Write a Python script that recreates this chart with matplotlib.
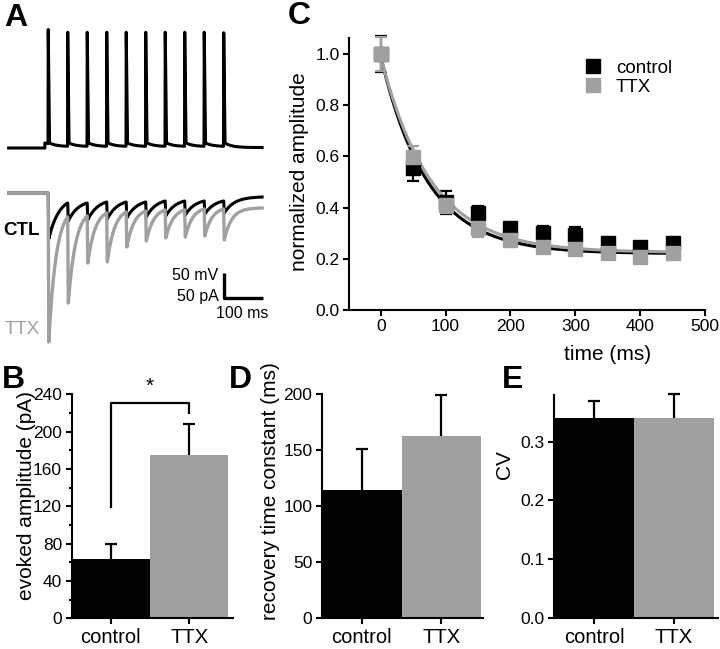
import matplotlib
matplotlib.use('Agg')
import matplotlib.pyplot as plt
import numpy as np

plt.rcParams['font.family'] = ['Liberation Sans', 'DejaVu Sans']

GRAY = '#a0a0a0'

# ---------------- panel A : traces (levels) ----------------
stim_t = [0, 50, 100, 150, 200, 250, 300, 350, 400, 450]      # ms
t_first, t_last = -101, 549                                    # ms, trace extent

# voltage trace (mV relative to rest)
spike_peak = [228, 228, 228, 228, 228, 228, 228, 228, 228, 227]
v_after = [10, 10, 10, 10, 10, 10, 10, 10, 10, 10]             # level right after each spike
v_before = [9, 3.5, 3.5, 3.5, 3.5, 3.5, 3.5, 3.5, 3.5, 3.5, 1]  # level before each spike (+ end)
step_on = -8

# evoked currents (pA); *_pre = level just before each stimulus, last = end of trace
ctl_trough = [-92, -56, -54, -52, -50, -48, -46, -44, -42, -40]
ctl_pre = [0, -20, -20, -18, -18, -18, -16, -16, -16, -16, -8]
ttx_trough = [-298, -220, -140, -138, -108, -96, -90, -88, -86, -94]
ttx_pre = [0, -48, -46, -40, -38, -36, -34, -34, -32, -32, -30]

# ---------------- panel B, D, E : bars ----------------
groups = ['control', 'TTX']
amp_mean = [64, 175]
amp_sem = [16, 33]
tau_mean = [114.5, 162.5]
tau_sem = [36.5, 37]
cv_mean = [0.34, 0.34]
cv_sem = [0.03, 0.041]

# ---------------- panel C : recovery ----------------
t_rec = [0, 50, 100, 150, 200, 250, 300, 350, 400, 450]
ctl_rec = [1.0, 0.553, 0.42, 0.378, 0.319, 0.30, 0.293, 0.263, 0.247, 0.26]
ctl_rec_err = [0.07, 0.05, 0.045, 0.027, 0.02, 0.028, 0.032, 0.017, 0.013, 0.016]
ttx_rec = [1.0, 0.599, 0.41, 0.319, 0.273, 0.247, 0.237, 0.221, 0.206, 0.221]
ttx_rec_err = [0.065, 0.04, 0.03, 0.032, 0.02, 0.02, 0.02, 0.02, 0.02, 0.02]
# single exponential fits: plateau, amplitude, tau (ms)
ctl_fit = (0.22, 0.77, 72.0)
ttx_fit = (0.225, 0.765, 77.0)


def voltage_trace():
    t = [t_first, step_on, step_on]
    v = [0, 0, v_after[0]]
    for k, t0 in enumerate(stim_t):
        t += [t0, t0 + 0.6, t0 + 4.0]
        v += [v_before[k], v_before[k] + spike_peak[k], v_after[k]]
        t_end = stim_t[k + 1] if k + 1 < len(stim_t) else t_last
        dt = np.linspace(0, t_end - t0 - 4.0, 30)[1:]
        tau = 18.0
        e = np.exp(-(t_end - t0 - 4.0) / tau)
        s = (v_before[k + 1] - v_after[k] * e) / (1 - e)
        t += list(t0 + 4.0 + dt)
        v += list(s + (v_after[k] - s) * np.exp(-dt / tau))
    return np.array(t), np.array(v)


def current_trace(trough, pre, tau):
    t = [t_first]
    y = [pre[0]]
    for k, t0 in enumerate(stim_t):
        t += [t0 + 0.5, t0 + 2.0]
        y += [pre[k], trough[k]]
        t_end = stim_t[k + 1] if k + 1 < len(stim_t) else t_last
        span = t_end - t0 - 2.0
        dt = np.linspace(0, span, 40)[1:]
        e = np.exp(-span / tau)
        s = (pre[k + 1] - trough[k] * e) / (1 - e)
        t += list(t0 + 2.0 + dt)
        y += list(s + (trough[k] - s) * np.exp(-dt / tau))
    return np.array(t), np.array(y)


fig = plt.figure(figsize=(7.2, 6.49), dpi=100)

# ---- A ----
axA = fig.add_axes([0, 289 / 649, 280 / 720, 360 / 649])
axA.set_xlim(-48 * 100 / 39, 232 * 100 / 39)
axA.set_ylim(0, 720)
axA.axis('off')
V_OFF, I_OFF = 424, 334
tv, vv = voltage_trace()
axA.plot(tv, vv + V_OFF, color='k', lw=2.2)
tc, yc = current_trace(ctl_trough, ctl_pre, 26.0)
axA.plot(tc, yc + I_OFF, color='k', lw=2.2)
tt, yt = current_trace(ttx_trough, ttx_pre, 19.0)
axA.plot(tt, yt + I_OFF, color=GRAY, lw=2.4)
# scale bar
axA.plot([451, 451, 551], [174, 124, 124], color='k', lw=2.4, solid_capstyle='butt')
axA.text(437, 168, '50 mV', ha='right', va='center', fontsize=11.5)
axA.text(437, 127, '50 pA', ha='right', va='center', fontsize=11.5)
axA.text(497, 92, '100 ms', ha='center', va='center', fontsize=11.5)
axA.text(-115, 259, 'CTL', ha='left', va='center', fontsize=13.5, fontweight='bold')
axA.text(-110, 62, 'TTX', ha='left', va='center', fontsize=13.5, color=GRAY)


def style(ax):
    for s in ['top', 'right']:
        ax.spines[s].set_visible(False)
    for s in ['left', 'bottom']:
        ax.spines[s].set_linewidth(1.5)
    ax.tick_params(width=1.5, length=4.3, labelsize=12.5, pad=2.5)
    ax.tick_params(which='minor', width=1.5, length=2.2)


def bars(ax, means, sems):
    x = np.arange(len(groups))
    ax.bar(x, means, width=1.0, color=['k', GRAY], edgecolor='none', zorder=2)
    tops = np.array(means) + np.array(sems)
    ax.vlines(x, means, tops, color='k', lw=1.6, zorder=1, clip_on=False)
    ax.plot(x, tops, ls='none', marker='_', ms=9, mew=1.6, color='k', clip_on=False, zorder=1)
    ax.set_xticks(x)
    ax.set_xticklabels(groups)
    style(ax)
    ax.tick_params(axis='x', pad=3, labelsize=14.5)


# ---- B ----
axB = fig.add_axes([71.5 / 720, (649 - 618.3) / 649, 161.5 / 720, 224 / 649])
bars(axB, amp_mean, amp_sem)
axB.set_xlim(-0.5, 1.56)
axB.set_ylim(0, 240)
axB.set_yticks(np.arange(0, 241, 40))
axB.set_yticks(np.arange(20, 240, 40), minor=True)
axB.set_ylabel('evoked amplitude (pA)', fontsize=15)
axB.yaxis.label.set_verticalalignment('center')
axB.yaxis.set_label_coords(-0.279, 0.55)
axB.plot([0, 0, 1, 1], [119, 231, 231, 220], color='k', lw=1.6, clip_on=False)
axB.text(0.5, 249, '*', ha='center', va='center', fontsize=15)

# ---- D ----
axD = fig.add_axes([321.7 / 720, (649 - 617.7) / 649, 161.3 / 720, 223.4 / 649])
bars(axD, tau_mean, tau_sem)
axD.set_xlim(-0.5, 1.52)
axD.set_ylim(0, 200)
axD.set_yticks(np.arange(0, 201, 50))
axD.set_ylabel('recovery time constant (ms)', fontsize=15)
axD.yaxis.label.set_verticalalignment('center')
axD.yaxis.set_label_coords(-0.32, 0.567)

# ---- E ----
axE = fig.add_axes([554 / 720, (649 - 617.7) / 649, 164 / 720, 222.7 / 649])
bars(axE, cv_mean, cv_sem)
axE.set_xlim(-0.5, 1.55)
axE.set_ylim(0, 0.38)
axE.set_yticks([0.0, 0.1, 0.2, 0.3])
axE.set_yticklabels(['0.0', '0.1', '0.2', '0.3'])
axE.set_ylabel('CV', fontsize=15)
axE.yaxis.label.set_verticalalignment('center')
axE.yaxis.set_label_coords(-0.299, 0.686)

# ---- C ----
axC = fig.add_axes([349 / 720, (649 - 310) / 649, 356 / 720, 272 / 649])
tf = np.linspace(0, 450, 300)
for vals, errs, fit, col, lab in [(ctl_rec, ctl_rec_err, ctl_fit, 'k', 'control'),
                                  (ttx_rec, ttx_rec_err, ttx_fit, GRAY, 'TTX')]:
    c0, a0, tau0 = fit
    axC.plot(tf, c0 + a0 * np.exp(-tf / tau0), color=col, lw=2.2)
    axC.errorbar(t_rec, vals, yerr=errs, fmt='s', color=col, ms=9.5, mec=col,
                 elinewidth=1.6, capsize=4, capthick=1.6, label=lab, clip_on=False)
axC.set_xlim(-49, 500)
axC.set_ylim(0, 1.0625)
axC.set_xticks(np.arange(0, 501, 100))
axC.set_yticks(np.arange(0, 1.01, 0.2))
axC.set_yticklabels(['0.0', '0.2', '0.4', '0.6', '0.8', '1.0'])
style(axC)
axC.set_ylabel('normalized amplitude', fontsize=15)
axC.yaxis.label.set_verticalalignment('center')
axC.yaxis.set_label_coords(-0.138, 0.507)
axC.set_xlabel('time (ms)', fontsize=15)
axC.xaxis.label.set_verticalalignment('center')
axC.xaxis.set_label_coords(0.7275, -0.165)
h, l = axC.get_legend_handles_labels()
h = [hh[0] for hh in h]
axC.legend(h, l, loc='upper left', bbox_to_anchor=(0.66, 0.92), frameon=False,
           fontsize=13.5, handlelength=1.0, handletextpad=0.7, labelspacing=0.1,
           borderpad=0, borderaxespad=0)

# panel letters
for letter, px, py in [('A', 4, 3), ('C', 288, 1), ('B', 2, 365), ('D', 229, 365), ('E', 502, 365)]:
    fig.text(px / 720, 1 - py / 649, letter, ha='left', va='top', fontsize=23, fontweight='bold')

fig.savefig('out.png', dpi=100)
